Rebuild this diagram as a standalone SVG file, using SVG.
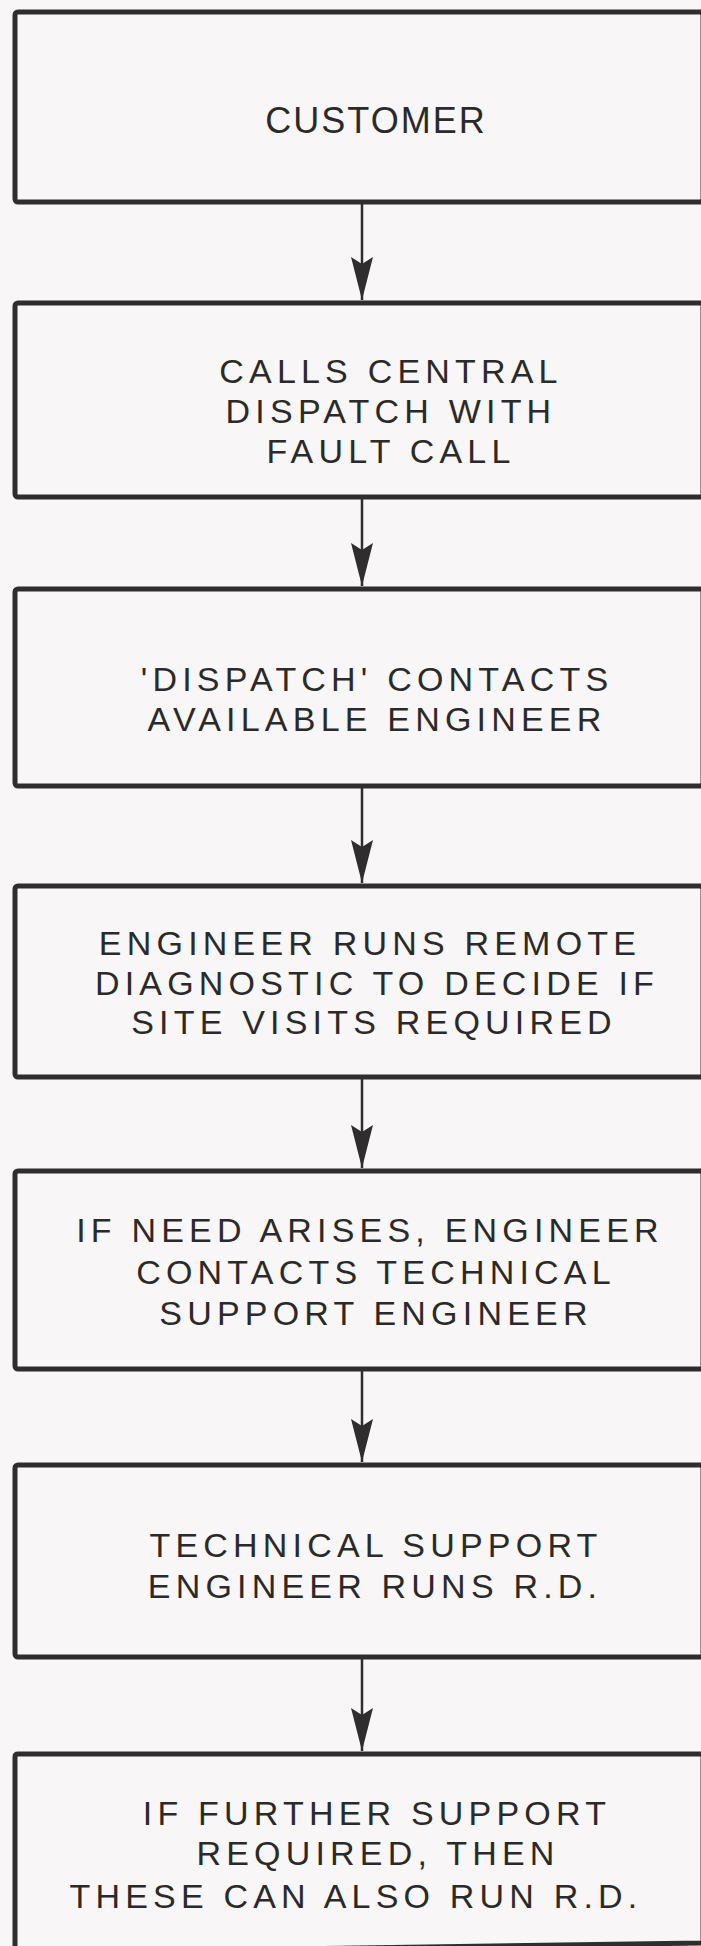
<svg xmlns="http://www.w3.org/2000/svg" width="701" height="1946" viewBox="0 0 701 1946">
  <style>
    .box { fill: none; stroke: #2f2d2e; stroke-width: 5; stroke-linejoin: round; }
    .lbl { font-family: "Liberation Sans", Arial, sans-serif; font-size: 34px; letter-spacing: 5.2px; fill: #2b2a2b; text-anchor: middle; }
    .big { font-size: 36px; letter-spacing: 2px; }
    .wire { stroke: #2f2d2e; stroke-width: 2.5; fill: none; }
  </style>
  <defs>
    <marker id="head" markerUnits="userSpaceOnUse" markerWidth="26" markerHeight="46" viewBox="-13 -44 26 46" refX="0" refY="0" orient="auto-start-reverse" overflow="visible">
      <path d="M0,0 L-11,-43 L0,-36 L11,-43 Z" fill="#2f2d2e" transform="rotate(-90)"/>
    </marker>
  </defs>
  <rect x="0" y="0" width="701" height="1946" fill="#f8f6f6"/>

  <g id="connectors">
    <line class="wire" x1="362" y1="202" x2="362" y2="300" marker-end="url(#head)"/>
    <line class="wire" x1="362" y1="497" x2="362" y2="586" marker-end="url(#head)"/>
    <line class="wire" x1="362" y1="786" x2="362" y2="883" marker-end="url(#head)"/>
    <line class="wire" x1="362" y1="1077" x2="362" y2="1168" marker-end="url(#head)"/>
    <line class="wire" x1="362" y1="1369" x2="362" y2="1462" marker-end="url(#head)"/>
    <line class="wire" x1="362" y1="1657" x2="362" y2="1751" marker-end="url(#head)"/>
  </g>

  <g id="customer">
    <rect class="box" x="15" y="12" width="688" height="190" rx="3"/>
    <text class="lbl big" x="376" y="133">CUSTOMER</text>
  </g>

  <g id="fault-call">
    <rect class="box" x="15" y="303" width="688" height="194" rx="3"/>
    <text class="lbl" x="391" y="383">CALLS CENTRAL</text>
    <text class="lbl" x="391" y="423">DISPATCH WITH</text>
    <text class="lbl" x="391" y="463">FAULT CALL</text>
  </g>

  <g id="dispatch">
    <rect class="box" x="15" y="589" width="688" height="197" rx="3"/>
    <text class="lbl" x="377" y="691">'DISPATCH' CONTACTS</text>
    <text class="lbl" x="377" y="731">AVAILABLE ENGINEER</text>
  </g>

  <g id="remote-diagnostic">
    <rect class="box" x="15" y="886" width="688" height="191" rx="3"/>
    <text class="lbl" x="370" y="955">ENGINEER RUNS REMOTE</text>
    <text class="lbl" x="377" y="995">DIAGNOSTIC TO DECIDE IF</text>
    <text class="lbl" x="374" y="1034">SITE VISITS REQUIRED</text>
  </g>

  <g id="tech-contact">
    <rect class="box" x="15" y="1171" width="688" height="198" rx="3"/>
    <text class="lbl" x="370" y="1242">IF NEED ARISES, ENGINEER</text>
    <text class="lbl" x="376" y="1284">CONTACTS TECHNICAL</text>
    <text class="lbl" x="376" y="1325">SUPPORT ENGINEER</text>
  </g>

  <g id="tech-rd">
    <rect class="box" x="15" y="1465" width="688" height="192" rx="3"/>
    <text class="lbl" x="376" y="1557">TECHNICAL SUPPORT</text>
    <text class="lbl" x="375" y="1598">ENGINEER RUNS R.D.</text>
  </g>

  <g id="further-support">
    <path class="box" d="M15,1952 L15,1757 Q15,1754 18,1754 L703,1754 L703,1943 L15,1953"/>
    <text class="lbl" x="377" y="1825">IF FURTHER SUPPORT</text>
    <text class="lbl" x="378" y="1865">REQUIRED, THEN</text>
    <text class="lbl" x="356" y="1908">THESE CAN ALSO RUN R.D.</text>
  </g>
</svg>
